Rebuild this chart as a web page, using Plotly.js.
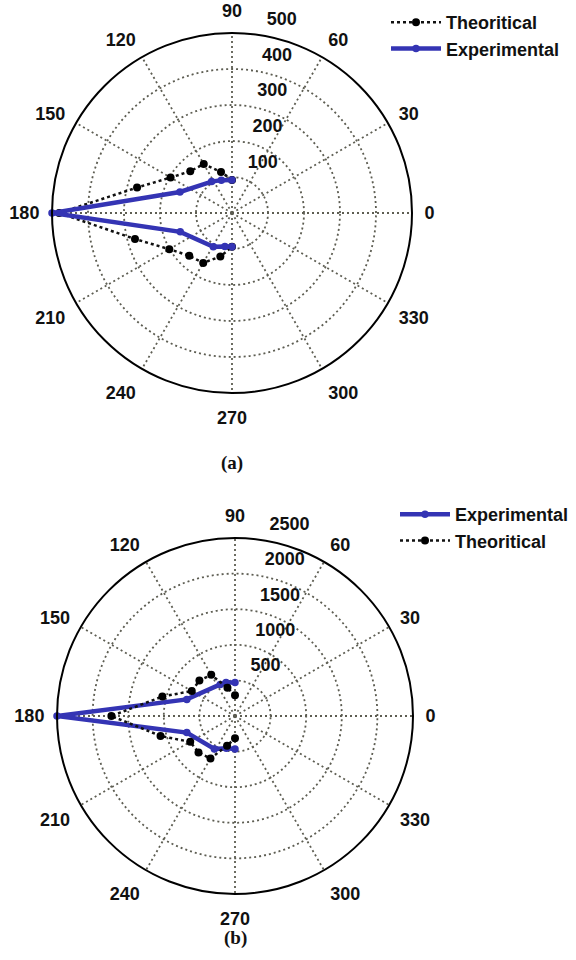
<!DOCTYPE html>
<html><head><meta charset="utf-8">
<script src="https://cdn.plot.ly/plotly-3.0.1.min.js"></script>
<style>html,body{margin:0;padding:0;background:#fff}#chart{width:576px;height:960px}</style>
</head><body><div id="chart"></div>
<script>
// ---- data ----
const angleTicks = [0, 30, 60, 90, 120, 150, 180, 210, 240, 270, 300, 330];
const angleTickLabels = ['0', '30', '60', '90', '120', '150', '180', '210', '240', '270', '300', '330'];

const radialTicksA = [100, 200, 300, 400, 500];
const radialTicksB = [500, 1000, 1500, 2000, 2500];

// (a)
const thetaTheoA = [90, 105, 120, 135, 150, 165, 180, 195, 210, 225, 240, 255, 270];
const rTheoA     = [92, 118, 157, 164, 197, 273, 480, 279, 201, 168, 160, 125, 94];
const thetaExpA  = [90, 108, 123, 158, 180, 200, 241, 258, 270];
const rExpA      = [92, 96, 104, 156, 500, 153, 107, 95, 94];

// (b)
const thetaTheoB = [90, 105, 120, 135, 150, 165, 180, 195, 210, 225, 240, 255, 270];
const rTheoB     = [290, 409, 668, 707, 701, 1056, 1736, 1083, 726, 725, 689, 431, 314];
const thetaExpB  = [90, 105, 115, 161, 180, 199, 238, 255, 270];
const rExpB      = [470, 486, 490, 716, 2500, 716, 546, 470, 465];

const seriesNames = ['Theoritical', 'Experimental'];

// ---- styling ----
const BLUE = '#3434b4';
const GRID = '#5d5d52';
const FONT = 'Liberation Sans, Arial, sans-serif';
const RPX = 180;     // plot circle radius in px
const RPX_OUT = 208; // radius of the hidden label overlay in px

function tickLabelTrace(vals, rmax, subplot) {
  const a = 82.4 * Math.PI / 180;
  const rr = [], tt = [];
  vals.forEach(v => {
    const p = v / rmax * RPX;
    const x = p * Math.cos(a) + 11, y = p * Math.sin(a) + 14;
    rr.push(Math.hypot(x, y) / RPX * rmax);
    tt.push(Math.atan2(y, x) * 180 / Math.PI);
  });
  return {type: 'scatterpolar', subplot, r: rr, theta: tt, mode: 'text',
    text: vals.map(String), textposition: 'middle right', cliponaxis: false,
    textfont: {family: FONT, size: 18, color: '#111', weight: 'bold'},
    showlegend: false, hoverinfo: 'skip'};
}

function theo(theta, r, subplot, legend) {
  return {type: 'scatterpolar', subplot, legend, name: seriesNames[0], theta, r,
    mode: 'lines+markers', cliponaxis: false,
    line: {color: '#111', width: 2.5, dash: 'dot'},
    marker: {color: '#000', size: 8, symbol: 'circle'}};
}
function exp(theta, r, subplot, legend) {
  return {type: 'scatterpolar', subplot, legend, name: seriesNames[1], theta, r,
    mode: 'lines+markers', cliponaxis: false,
    line: {color: BLUE, width: 4.5},
    marker: {color: BLUE, size: 7.5, symbol: 'circle'}};
}

function polarCfg(domain, rmax, ticks) {
  return {
    domain, bgcolor: 'rgba(0,0,0,0)',
    radialaxis: {range: [0, rmax], tickmode: 'array', tickvals: ticks.slice(0, 4),
      showticklabels: false, showline: false, ticks: '',
      gridcolor: GRID, griddash: '2px,3px', gridwidth: 1.8},
    angularaxis: {rotation: 0, direction: 'counterclockwise', tickmode: 'array',
      tickvals: angleTicks, ticktext: angleTickLabels,
      showline: true, linecolor: '#000', linewidth: 2,
      gridcolor: GRID, griddash: '2px,3px', gridwidth: 1.8,
      ticks: 'outside', ticklen: 8, tickcolor: 'rgba(0,0,0,0)',
      tickfont: {family: FONT, size: 18, color: '#111', weight: 'bold'}}
  };
}
function hiddenPolar(domain, rmax) {
  return {domain, bgcolor: 'rgba(0,0,0,0)',
    radialaxis: {range: [0, rmax], visible: false, showgrid: false},
    angularaxis: {visible: false, showgrid: false, showline: false, rotation: 0, direction: 'counterclockwise'}};
}

const data = [
  theo(thetaTheoA, rTheoA, 'polar', 'legend'),
  exp(thetaExpA, rExpA, 'polar', 'legend'),
  tickLabelTrace(radialTicksA, 500, 'polar3'),
  exp(thetaExpB, rExpB, 'polar2', 'legend2'),
  theo(thetaTheoB, rTheoB, 'polar2', 'legend2'),
  tickLabelTrace(radialTicksB, 2500, 'polar4')
];

const legendCfg = (x, y) => ({x, y, xanchor: 'left', yanchor: 'top',
  bgcolor: 'rgba(0,0,0,0)', itemwidth: 50, tracegroupgap: 0,
  font: {family: FONT, size: 18, color: '#111', weight: 'bold'}});

const capFont = {family: 'Liberation Serif, Times New Roman, serif', size: 19, color: '#111', weight: 'bold'};

// circle centres (px): a (232,213), b (235,716)
const ca = [232, 213], cb = [235, 716];
const dom = (c, R) => ({x: [(c[0] - R) / 576, (c[0] + R) / 576], y: [1 - (c[1] + R) / 960, 1 - (c[1] - R) / 960]});

const layout = {
  width: 576, height: 960,
  margin: {l: 0, r: 0, t: 0, b: 0},
  paper_bgcolor: '#fff',
  showlegend: true,
  polar: polarCfg(dom(ca, RPX), 500, radialTicksA),
  polar2: polarCfg(dom(cb, 178), 2500, radialTicksB),
  polar3: hiddenPolar(dom(ca, RPX_OUT), 500 * RPX_OUT / RPX),
  polar4: hiddenPolar(dom(cb, RPX_OUT * 178 / 180), 2500 * RPX_OUT / RPX),
  legend: legendCfg(386 / 576, 1 - 4 / 960),
  legend2: legendCfg(395 / 576, 1 - 496 / 960),
  annotations: [
    {text: '(a)', x: 232 / 576, y: 1 - 463 / 960, xref: 'paper', yref: 'paper',
     xanchor: 'center', yanchor: 'middle', showarrow: false, font: capFont},
    {text: '(b)', x: 235 / 576, y: 1 - 938 / 960, xref: 'paper', yref: 'paper',
     xanchor: 'center', yanchor: 'middle', showarrow: false, font: capFont}
  ]
};

Plotly.newPlot('chart', data, layout, {displayModeBar: false, staticPlot: true});
</script></body></html>
